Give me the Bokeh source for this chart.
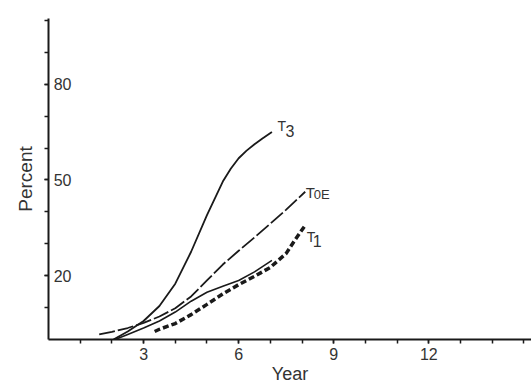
from bokeh.plotting import figure
from bokeh.models import FixedTicker, Range1d
from bokeh.core.properties import value
from bokeh.embed import file_html
from bokeh.resources import INLINE

# ---- data ----
t3_year = [2.05, 2.5, 3.0, 3.5, 4.0, 4.5, 5.0, 5.5, 5.75, 6.0, 6.25, 6.5, 6.75, 7.05]
t3_pct = [0, 2.5, 5.8, 10.5, 17.5, 27.5, 39, 49.5, 53.5, 56.8, 59.2, 61.2, 63, 65]

t0e_year = [1.6, 2.0, 2.5, 3.0, 3.5, 4.0, 4.5, 5.0, 5.5, 6.0, 6.5, 7.0, 7.5, 8.1]
t0e_pct = [1.6, 2.4, 3.6, 5.2, 7.2, 9.8, 13.5, 18.5, 23.5, 27.8, 32, 36.3, 40.7, 46.3]

t1s_year = [2.1, 2.5, 3.0, 3.5, 4.0, 4.5, 5.0, 5.5, 6.0, 6.5, 7.05]
t1s_pct = [0, 1.6, 3.6, 5.8, 8.6, 12, 14.8, 16.7, 18.5, 21.2, 24.8]

t1d_year = [3.35, 3.5, 4.0, 4.5, 5.0, 5.5, 6.0, 6.5, 7.0, 7.5, 7.75, 8.1]
t1d_pct = [2.5, 3.2, 5, 7.8, 11, 14.3, 17.2, 19.8, 22.6, 27, 30.8, 35.8]

x_major = [3, 6, 9, 12]
x_minor = [1, 2, 3, 4, 5, 6, 7, 8, 9, 10, 11, 12, 13, 14, 15]
y_major = [20, 50, 80]
y_minor = [10, 20, 30, 40, 50, 60, 70, 80, 90, 100]

FONT = "Liberation Sans"
TXT = "#333333"
INK = "#1a1a1a"

p = figure(width=531, height=386, x_range=Range1d(0, 15.24), y_range=Range1d(0, 100.6),
           output_backend="svg", toolbar_location=None,
           min_border_left=48, min_border_right=0, min_border_top=18, min_border_bottom=43)
p.outline_line_color = None
p.xgrid.grid_line_color = None
p.ygrid.grid_line_color = None
p.background_fill_color = "white"
p.border_fill_color = "white"

for ax in (p.xaxis[0], p.yaxis[0]):
    ax.axis_line_color = INK
    ax.axis_line_width = 2
    ax.major_tick_line_color = INK
    ax.minor_tick_line_color = INK
    ax.major_tick_line_width = 1.5
    ax.minor_tick_line_width = 1.5
    ax.major_tick_in = 0
    ax.major_tick_out = 4
    ax.minor_tick_in = 0
    ax.minor_tick_out = 4
    ax.major_label_text_font = FONT
    ax.major_label_text_color = TXT
    ax.major_label_text_font_size = "16px"
    ax.axis_label_text_font = FONT
    ax.axis_label_text_color = TXT
    ax.axis_label_text_font_style = "normal"

p.xaxis.axis_label_text_font_size = "18px"
p.yaxis.axis_label_text_font_size = "19px"
p.xaxis.ticker = FixedTicker(ticks=x_major, minor_ticks=x_minor)
p.yaxis.ticker = FixedTicker(ticks=y_major, minor_ticks=y_minor)
p.xaxis.axis_label = "Year"
p.yaxis.axis_label = "Percent"
p.xaxis.major_label_standoff = 4
p.xaxis.axis_label_standoff = 1
p.yaxis.major_label_standoff = -27
p.yaxis.axis_label_standoff = 15

# curves
p.line(t3_year, t3_pct, line_color=INK, line_width=1.8)
p.line(t0e_year, t0e_pct, line_color=INK, line_width=1.8, line_dash="16 3")
p.line(t1s_year, t1s_pct, line_color=INK, line_width=1.6)
p.line(t1d_year, t1d_pct, line_color=INK, line_width=3.5, line_dash="6 3")

# curve labels placed at the end of each series
def lab(x, y, txt, size, dx, dy):
    p.text(x=[x], y=[y], text=[txt], x_offset=dx, y_offset=dy,
           text_font=value(FONT), text_font_size=size, text_color=TXT,
           text_baseline="top", text_align="left")

lab(t3_year[-1], t3_pct[-1], "T", "14px", 5.5, -13.7)
lab(t3_year[-1], t3_pct[-1], "3", "16px", 13.5, -7)
lab(t0e_year[-1], t0e_pct[-1], "T", "15px", 0.5, -7.5)
lab(t0e_year[-1], t0e_pct[-1], "0E", "13px", 8.5, -5)
lab(t1d_year[-1], t1d_pct[-1], "T", "14px", 1.5, 4)
lab(t1d_year[-1], t1d_pct[-1], "1", "16px", 7.5, 9.5)

open("out.html", "w").write(file_html(p, INLINE))
